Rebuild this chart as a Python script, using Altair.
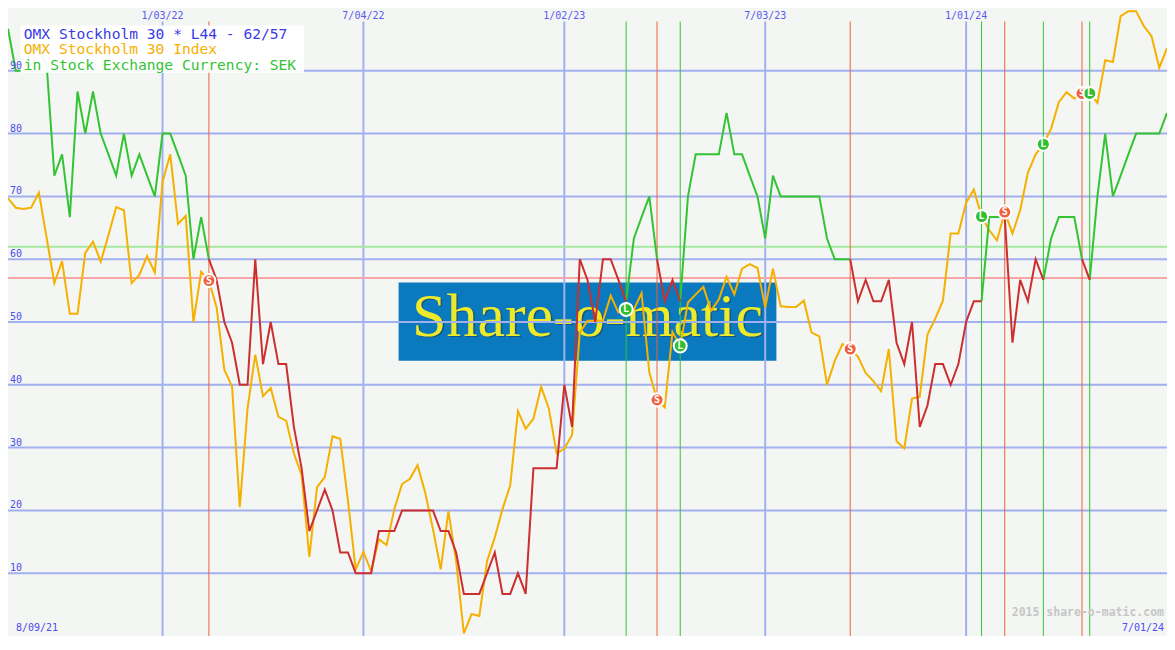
import altair as alt
import pandas as pd

# ---------------- data ----------------
# weekly points, index 0 = first visible week (left edge), 150 = 7/01/24
ind_values = [
    96.7, 90.0, 90.0, 93.3, 93.3, 91.0, 73.3, 76.7, 66.7, 86.7,
    80.0, 86.7, 80.0, 76.7, 73.3, 80.0, 73.3, 76.7, 73.3, 70.0,
    80.0, 80.0, 76.7, 73.3, 60.0, 66.7, 60.0, 56.7, 50.0, 46.7,
    40.0, 40.0, 60.0, 43.3, 50.0, 43.3, 43.3, 33.3, 26.7, 16.7,
    20.0, 23.3, 20.0, 13.3, 13.3, 10.0, 10.0, 10.0, 16.7, 16.7,
    16.7, 20.0, 20.0, 20.0, 20.0, 20.0, 16.7, 16.7, 13.3, 6.7,
    6.7, 6.7, 10.0, 13.3, 6.7, 6.7, 10.0, 6.7, 26.7, 26.7,
    26.7, 26.7, 40.0, 33.3, 60.0, 56.7, 50.0, 60.0, 60.0, 56.7,
    53.3, 63.3, 66.7, 70.0, 60.0, 53.3, 56.7, 53.3, 70.0, 76.7,
    76.7, 76.7, 76.7, 83.3, 76.7, 76.7, 73.3, 70.0, 63.3, 73.3,
    70.0, 70.0, 70.0, 70.0, 70.0, 70.0, 63.3, 60.0, 60.0, 60.0,
    53.3, 56.7, 53.3, 53.3, 56.7, 46.7, 43.3, 50.0, 33.3, 36.7,
    43.3, 43.3, 40.0, 43.3, 50.0, 53.3, 53.3, 66.7, 66.7, 66.7,
    46.7, 56.7, 53.3, 60.0, 56.7, 63.3, 66.7, 66.7, 66.7, 60.0,
    56.7, 70.0, 80.0, 70.0, 73.3, 76.7, 80.0, 80.0, 80.0, 80.0,
    83.3,
]
index_values = [
    69.7, 68.2, 68.0, 68.2, 70.6, 63.4, 56.2, 59.7, 51.3, 51.3,
    61.0, 62.8, 59.6, 63.8, 68.3, 67.8, 56.2, 57.5, 60.5, 57.9,
    72.3, 76.7, 65.6, 66.9, 50.0, 58.0, 56.6, 52.3, 42.4, 39.7,
    20.5, 36.2, 44.8, 38.2, 39.5, 34.9, 34.3, 29.1, 25.6, 12.6,
    23.7, 25.3, 31.8, 31.4, 21.5, 10.6, 13.4, 10.3, 15.4, 14.5,
    20.2, 24.2, 25.0, 27.2, 22.8, 17.0, 10.6, 19.9, 11.9, 0.4,
    3.5, 3.2, 11.9, 15.7, 20.2, 24.0, 35.8, 33.0, 34.6, 39.7,
    36.2, 29.1, 29.8, 32.0, 48.3, 50.2, 50.2, 50.2, 54.2, 51.5,
    52.0, 52.0, 54.6, 42.0, 37.6, 36.4, 48.4, 46.2, 53.1, 54.4,
    55.6, 51.8, 53.6, 57.2, 54.4, 58.5, 59.2, 58.6, 52.3, 58.5,
    52.5, 52.4, 52.4, 53.4, 48.3, 47.7, 40.0, 43.8, 46.5, 45.7,
    44.5, 41.9, 40.6, 39.0, 45.7, 31.0, 29.9, 37.8, 38.1, 48.0,
    50.5, 53.4, 64.1, 64.1, 69.0, 71.1, 66.8, 64.6, 63.0, 67.5,
    64.1, 67.8, 73.8, 76.7, 78.3, 80.8, 85.0, 86.6, 85.6, 86.4,
    86.4, 84.9, 91.7, 91.4, 98.7, 99.5, 99.5, 97.1, 95.5, 90.5,
    93.6,
]
sell_weeks = [26, 84, 109, 129, 139]
buy_weeks = [80, 87, 126, 134, 140]
grid_values = [10, 20, 30, 40, 50, 60, 70, 80, 90]
grid_labels = ["10", "20", "30", "40", "50", "60", "70", "80", "90"]
date_weeks = [20, 46, 72, 98, 124]
date_labels = ["1/03/22", "7/04/22", "1/02/23", "7/03/23", "1/01/24"]
first_label = "8/09/21"
last_label = "7/01/24"
long_level = 62
short_level = 57
legend_texts = ["OMX Stockholm 30 * L44 - 62/57",
                "OMX Stockholm 30 Index",
                "in Stock Exchange Currency: SEK"]
watermark = "2015 share-o-matic.com"
logo_text = "Share-o-matic"

# ---------------- layout / style ----------------
W, H = 1159, 628
SX, SY = W / 1175.0, H / 650.0
N = len(ind_values)
MONO = "DejaVu Sans Mono"

BG = "#f4f6f3"
GRID = "#a3b0f0"
LBL = "#4c4cf0"
GREEN = "#33c433"
RED = "#cc2f2f"
ORANGE = "#f5b000"

xs = alt.Scale(domain=[0, N - 1], nice=False, zero=False)
ys = alt.Scale(domain=[0, 100], nice=False, zero=False)
X = lambda f="k": alt.X(f"{f}:Q", scale=xs, axis=None)
Y = lambda f="v": alt.Y(f"{f}:Q", scale=ys, axis=None)

one = pd.DataFrame({"a": [0]})

# segments of the indicator (long = green, short = red)
events = sorted([(k, "short") for k in sell_weeks] + [(k, "long") for k in buy_weeks])
bounds = [0] + [k for k, _ in events] + [N - 1]
states = ["long"] + [s for _, s in events]
seg_rows = []
for i in range(len(bounds) - 1):
    for k in range(bounds[i], bounds[i + 1] + 1):
        seg_rows.append({"k": k, "v": ind_values[k], "seg": i, "state": states[i]})
seg_df = pd.DataFrame(seg_rows)

index_df = pd.DataFrame({"k": list(range(N)), "v": index_values})
grid_df = pd.DataFrame({"v": grid_values, "label": grid_labels})
dates_df = pd.DataFrame({"k": date_weeks, "label": date_labels})
sell_df = pd.DataFrame({"k": sell_weeks, "v": [index_values[k] for k in sell_weeks], "t": "S"})
buy_df = pd.DataFrame({"k": buy_weeks, "v": [index_values[k] for k in buy_weeks], "t": "L"})
thr_df = pd.DataFrame({"v": [long_level, short_level], "c": ["long", "short"]})

layers = []

# logo
layers.append(alt.Chart(one).mark_rect(color="#0b79bd").encode(
    x=alt.value(396 * SX), x2=alt.value(779 * SX),
    y=alt.value(284 * SY), y2=alt.value(365 * SY)))
layers.append(alt.Chart(one).mark_text(
    text=logo_text, font="Liberation Serif", fontSize=62, align="center",
    baseline="alphabetic", color="#1c3550", opacity=0.5).encode(
    x=alt.value(589 * SX), y=alt.value(340.5 * SY)))
layers.append(alt.Chart(one).mark_text(
    text=logo_text, font="Liberation Serif", fontSize=62, align="center",
    baseline="alphabetic", color="#ecea2a").encode(
    x=alt.value(587.5 * SX), y=alt.value(339 * SY)))

# horizontal grid
layers.append(alt.Chart(grid_df).mark_rule(color=GRID, strokeWidth=2).encode(
    y=Y(), x=alt.value(0), x2=alt.value(W)))
# vertical date lines
layers.append(alt.Chart(dates_df).mark_rule(color=GRID, strokeWidth=2).encode(
    x=X(), y=alt.value(14 * SY), y2=alt.value(H)))
# threshold lines
layers.append(alt.Chart(thr_df[thr_df.c == "long"]).mark_rule(color="#a6e8a0", strokeWidth=2).encode(
    y=Y(), x=alt.value(0), x2=alt.value(W)))
layers.append(alt.Chart(thr_df[thr_df.c == "short"]).mark_rule(color="#f6a6a6", strokeWidth=2).encode(
    y=Y(), x=alt.value(0), x2=alt.value(W)))
# signal lines
layers.append(alt.Chart(sell_df).mark_rule(color="#f0603f", strokeWidth=1).encode(
    x=X(), y=alt.value(14 * SY), y2=alt.value(H)))
layers.append(alt.Chart(buy_df).mark_rule(color="#33c433", strokeWidth=1).encode(
    x=X(), y=alt.value(14 * SY), y2=alt.value(H)))

# index line
layers.append(alt.Chart(index_df).mark_line(color=ORANGE, strokeWidth=2).encode(
    x=X(), y=Y(), order="k:Q"))
# indicator line
layers.append(alt.Chart(seg_df[seg_df.state == "long"]).mark_line(color=GREEN, strokeWidth=2).encode(
    x=X(), y=Y(), detail="seg:N", order="k:Q"))
layers.append(alt.Chart(seg_df[seg_df.state == "short"]).mark_line(color=RED, strokeWidth=2).encode(
    x=X(), y=Y(), detail="seg:N", order="k:Q"))

# markers
layers.append(alt.Chart(sell_df).mark_point(shape="circle", filled=True, size=170,
                                             fill="#f0603f", stroke="white", strokeWidth=2, opacity=1).encode(
    x=X(), y=Y()))
layers.append(alt.Chart(buy_df).mark_point(shape="circle", filled=True, size=170,
                                            fill="#2fbf2f", stroke="white", strokeWidth=2, opacity=1).encode(
    x=X(), y=Y()))
layers.append(alt.Chart(pd.concat([sell_df, buy_df])).mark_text(
    font=MONO, fontSize=10, fontWeight="bold", color="white", baseline="middle", align="center").encode(
    x=X(), y=Y(), text="t:N"))

# legend box
layers.append(alt.Chart(one).mark_rect(color="white", opacity=0.95).encode(
    x=alt.value(12.7 * SX), x2=alt.value(300 * SX),
    y=alt.value(18 * SY), y2=alt.value(67 * SY)))
for txt, col, base in zip(legend_texts, ["#3a3ae6", ORANGE, GREEN], [32, 48, 64]):
    layers.append(alt.Chart(one).mark_text(
        text=txt, font=MONO, fontSize=14.6, align="left", baseline="alphabetic", color=col).encode(
        x=alt.value(16 * SX), y=alt.value(base * SY)))

# y labels
layers.append(alt.Chart(grid_df).mark_text(
    font=MONO, fontSize=10, align="left", baseline="alphabetic", dy=-2, color=LBL).encode(
    x=alt.value(2 * SX), y=Y(), text="label:N"))
# top date labels
layers.append(alt.Chart(dates_df).mark_text(
    font=MONO, fontSize=10, align="center", baseline="middle", color="#5a5af0").encode(
    x=X(), y=alt.value(8 * SY), text="label:N"))
# corner labels
layers.append(alt.Chart(one).mark_text(
    text=first_label, font=MONO, fontSize=10, align="left", baseline="alphabetic", color=LBL).encode(
    x=alt.value(8 * SX), y=alt.value(645 * SY)))
layers.append(alt.Chart(one).mark_text(
    text=last_label, font=MONO, fontSize=10, align="right", baseline="alphabetic", color=LBL).encode(
    x=alt.value(1172 * SX), y=alt.value(645 * SY)))
# watermark
layers.append(alt.Chart(one).mark_text(
    text=watermark, font=MONO, fontSize=11.5, fontWeight="bold", align="right",
    baseline="alphabetic", color="#c6c6c6").encode(
    x=alt.value(1172 * SX), y=alt.value(629 * SY)))

chart = alt.layer(*layers).properties(
    width=W, height=H, padding=0,
    autosize=alt.AutoSizeParams(type="none"),
).configure(background=BG).configure_view(strokeWidth=0, fill=BG)

chart.save("out.html", embed_options={"renderer": "svg", "actions": False})
